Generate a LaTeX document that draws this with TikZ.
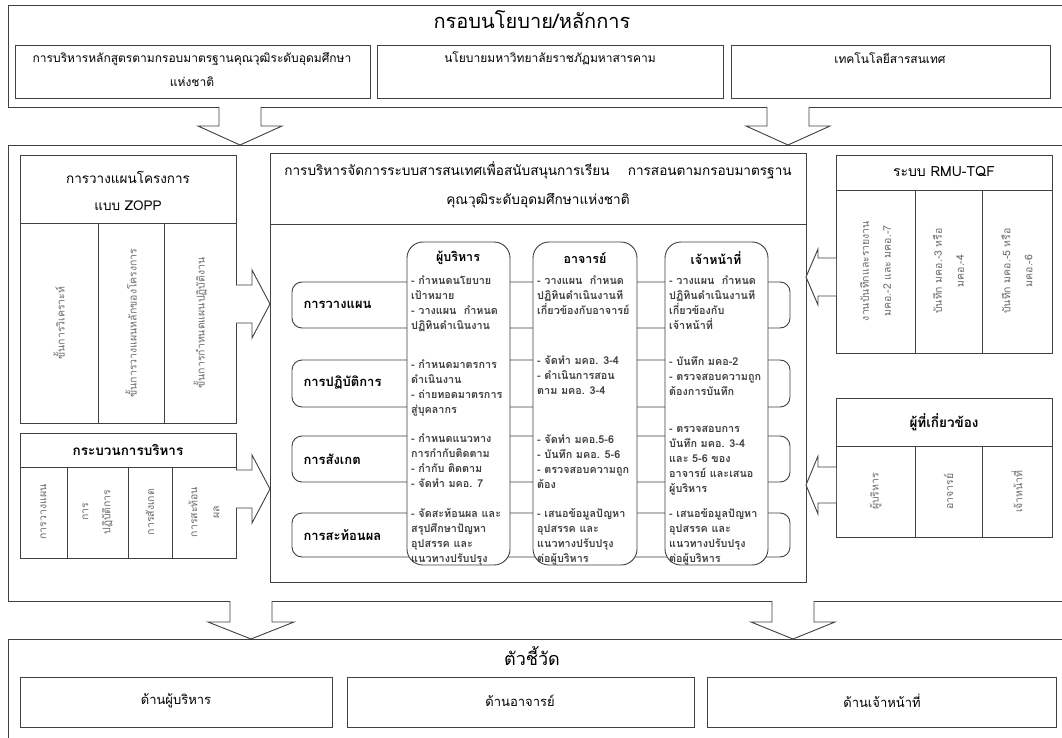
\documentclass[tikz,border=0pt]{standalone}
\usepackage{fontspec}
\setmainfont[Script=Thai]{Loma}
\definecolor{linegray}{gray}{0.25}
\definecolor{txtgray}{gray}{0.42}
\tikzset{
  frame/.style={draw=linegray, line width=0.9pt},
  rbox/.style={frame, rounded corners=10pt, fill=white},
  cbox/.style={frame, rounded corners=16pt, fill=white},
  blockarrow/.style={frame, fill=white, line join=miter},
  titletxt/.style={font=\fontsize{20}{24}\selectfont},
  headtxt/.style={align=center, font=\fontsize{12}{24}\selectfont},
  boldhead/.style={align=center, font=\bfseries\fontsize{13.5}{24}\selectfont},
  coltxt/.style={rotate=90, align=center, text=txtgray, font=\fontsize{10.5}{22}\selectfont},
  rowtxt/.style={anchor=west, font=\bfseries\fontsize{13}{16}\selectfont},
  bullet/.style={anchor=north west, align=left, inner sep=0pt, text=black!75,
    font=\bfseries\fontsize{10.8}{15}\selectfont},
}
\begin{document}
\begin{tikzpicture}[x=1pt,y=-1pt]
\useasboundingbox (0,0) rectangle (1062,738);
\fill[white] (0,0) rectangle (1062,738);
%
% policy frame
\draw[frame] (8,5) rectangle (1070,107);
\node[titletxt] (policy) at (532,20) {กรอบนโยบาย/หลักการ};
\draw[frame] (15,45) rectangle (370,98);
\draw[frame] (377,45) rectangle (723,98);
\draw[frame] (731,45) rectangle (1050,98);
\node[headtxt] (tqf) at (192,70) {การบริหารหลักสูตรตามกรอบมาตรฐานคุณวุฒิระดับอุดมศึกษา\\แห่งชาติ};
\node[headtxt] (rmu) at (550,58) {นโยบายมหาวิทยาลัยราชภัฏมหาสารคาม};
\node[headtxt] (ict) at (890,58) {เทคโนโลยีสารสนเทศ};
%
\draw[blockarrow] (219,107) -- (219,126) -- (198,126) -- (240,145) -- (282,126) -- (261,126) -- (261,107);
\draw[blockarrow] (767,107) -- (767,126) -- (746,126) -- (788,145) -- (830,126) -- (809,126) -- (809,107);
%
% main frame
\draw[frame] (8,145) rectangle (1070,601);
%
% ZOPP panel
\draw[frame] (20,155) rectangle (236,423);
\draw[frame] (20,223) -- (236,223);
\draw[frame] (98,223) -- (98,423);
\draw[frame] (164,223) -- (164,423);
\node[headtxt, font=\fontsize{13.5}{27}\selectfont] (zopp) at (128,191) {การวางแผนโครงการ\\แบบ ZOPP};
\node[coltxt] (zanalyse) at (59,323) {ขั้นการวิเคราะห์};
\node[coltxt] (zmain) at (131,323) {ขั้นการวางแผนหลักของโครงการ};
\node[coltxt] (zaction) at (200,323) {ขั้นการกำหนดแผนปฏิบัติงาน};
%
% management process panel
\draw[frame] (20,433) rectangle (236,558);
\draw[frame] (20,467) -- (236,467);
\draw[frame] (67,467) -- (67,558);
\draw[frame] (128,467) -- (128,558);
\draw[frame] (172,467) -- (172,558);
\node[boldhead] (process) at (128,450) {กระบวนการบริหาร};
\node[coltxt] (pplan) at (43.5,512) {การวางแผน};
\node[coltxt] (pact) at (97.5,512) {การ\\ปฏิบัติการ};
\node[coltxt] (pobs) at (150,512) {การสังเกต};
\node[coltxt] (prefl) at (204,512) {การสะท้อน\\ผล};
%
\draw[blockarrow] (236,285) -- (252,285) -- (252,270) -- (270,304) -- (252,338) -- (252,323) -- (236,323);
\draw[blockarrow] (236,470) -- (252,470) -- (252,455) -- (270,489) -- (252,523) -- (252,508) -- (236,508);
%
% centre panel
\draw[frame] (270,153) rectangle (806,582);
\draw[frame] (270,224) -- (806,224);
\node[headtxt, font=\fontsize{13.6}{29}\selectfont] (centre) at (538,185)
  {การบริหารจัดการระบบสารสนเทศเพื่อสนับสนุนการเรียน\quad\ การสอนตามกรอบมาตรฐาน\\คุณวุฒิระดับอุดมศึกษาแห่งชาติ};
%
\draw[rbox] (292,282) rectangle (790,328);
\draw[rbox] (292,360) rectangle (790,407);
\draw[rbox] (292,436) rectangle (790,482);
\draw[rbox] (292,513) rectangle (790,557);
\node[rowtxt] (rplan) at (300,305) {การวางแผน};
\node[rowtxt] (ract) at (300,383) {การปฏิบัติการ};
\node[rowtxt] (robs) at (300,459) {การสังเกต};
\node[rowtxt] (rrefl) at (300,535) {การสะท้อนผล};
%
\draw[cbox] (407,242) rectangle (510,565);
\draw[cbox] (533,242) rectangle (637,565);
\draw[cbox] (665,242) rectangle (768,565);
\node[boldhead, font=\bfseries\fontsize{12.5}{16}\selectfont] (exec) at (458,258) {ผู้บริหาร};
\node[boldhead, font=\bfseries\fontsize{12.5}{16}\selectfont] (teach) at (585,258) {อาจารย์};
\node[boldhead, font=\bfseries\fontsize{12.5}{16}\selectfont] (staff) at (716,258) {เจ้าหน้าที่};
%
\node[bullet] (e1) at (411,276) {- กำหนดนโยบาย\\เป้าหมาย\\- วางแผน\ \ กำหนด\\ปฏิทินดำเนินงาน};
\node[bullet] (e2) at (411,360) {- กำหนดมาตรการ\\ดำเนินงาน\\- ถ่ายทอดมาตรการ\\สู่บุคลากร};
\node[bullet] (e3) at (411,433) {- กำหนดแนวทาง\\การกำกับติดตาม\\- กำกับ ติดตาม\\- จัดทำ มคอ. 7};
\node[bullet] (e4) at (411,508) {- จัดสะท้อนผล และ\\สรุปศึกษาปัญหา\\อุปสรรค และ\\แนวทางปรับปรุง};
%
\node[bullet] (t1) at (537,276) {- วางแผน\ \ กำหนด\\ปฏิทินดำเนินงานที\\เกี่ยวข้องกับอาจารย์};
\node[bullet] (t2) at (537,356) {- จัดทำ มคอ. 3-4\\- ดำเนินการสอน\\ตาม มคอ. 3-4};
\node[bullet] (t3) at (537,435) {- จัดทำ มคอ.5-6\\- บันทึก มคอ. 5-6\\- ตรวจสอบความถูก\\ต้อง};
\node[bullet] (t4) at (537,508) {- เสนอข้อมูลปัญหา\\อุปสรรค และ\\แนวทางปรับปรุง\\ต่อผู้บริหาร};
%
\node[bullet] (s1) at (669,276) {- วางแผน\ \ กำหนด\\ปฏิทินดำเนินงานที\\เกี่ยวข้องกับ\\เจ้าหน้าที่};
\node[bullet] (s2) at (669,356) {- บันทึก มคอ-2\\- ตรวจสอบความถูก\\ต้องการบันทึก};
\node[bullet] (s3) at (669,426) {- ตรวจสอบการ\\บันทึก มคอ. 3-4\\และ 5-6 ของ\\อาจารย์ และเสนอ\\ผู้บริหาร};
\node[bullet] (s4) at (669,508) {- เสนอข้อมูลปัญหา\\อุปสรรค และ\\แนวทางปรับปรุง\\ต่อผู้บริหาร};
%
% RMU-TQF panel
\draw[frame] (836,155) rectangle (1052,353);
\draw[frame] (836,190) -- (1052,190);
\draw[frame] (915,190) -- (915,353);
\draw[frame] (982,190) -- (982,353);
\node[headtxt, font=\fontsize{14}{24}\selectfont] (tqfsys) at (944,172) {ระบบ RMU-TQF};
\node[coltxt] (report) at (875.5,271) {งานบันทึกและรายงาน\\มคอ.-2 และ มคอ.-7};
\node[coltxt] (rec34) at (948.5,271) {บันทึก มคอ.-3 หรือ\\มคอ.-4};
\node[coltxt] (rec56) at (1017,271) {บันทึก มคอ.-5 หรือ\\มคอ.-6};
%
% stakeholder panel
\draw[frame] (836,398) rectangle (1052,537);
\draw[frame] (836,446) -- (1052,446);
\draw[frame] (915,446) -- (915,537);
\draw[frame] (982,446) -- (982,537);
\node[boldhead] (stake) at (944,422) {ผู้ที่เกี่ยวข้อง};
\node[coltxt] (kexec) at (875.5,491.5) {ผู้บริหาร};
\node[coltxt] (kteach) at (948.5,491.5) {อาจารย์};
\node[coltxt] (kstaff) at (1017,491.5) {เจ้าหน้าที่};
%
\draw[blockarrow] (836,258) -- (818,258) -- (818,249) -- (806,277) -- (818,305) -- (818,296) -- (836,296);
\draw[blockarrow] (836,467) -- (818,467) -- (818,456) -- (806,485) -- (818,514) -- (818,503) -- (836,503);
%
\draw[blockarrow] (230,601) -- (230,622) -- (208,622) -- (251,639) -- (294,622) -- (272,622) -- (272,601);
\draw[blockarrow] (772,601) -- (772,622) -- (751,622) -- (793,639) -- (835,622) -- (814,622) -- (814,601);
%
% indicator frame
\draw[frame] (8,639) rectangle (1070,745);
\node[titletxt, font=\fontsize{18}{22}\selectfont] (indic) at (532,656) {ตัวชี้วัด};
\draw[frame] (20,677) rectangle (332,727);
\draw[frame] (347,677) rectangle (694,727);
\draw[frame] (707,677) rectangle (1056,727);
\node[headtxt, font=\fontsize{13}{16}\selectfont] (iexec) at (176,701) {ด้านผู้บริหาร};
\node[headtxt, font=\fontsize{13}{16}\selectfont] (iteach) at (520,701) {ด้านอาจารย์};
\node[headtxt, font=\fontsize{13}{16}\selectfont] (istaff) at (882,701) {ด้านเจ้าหน้าที่};
\end{tikzpicture}
\end{document}
